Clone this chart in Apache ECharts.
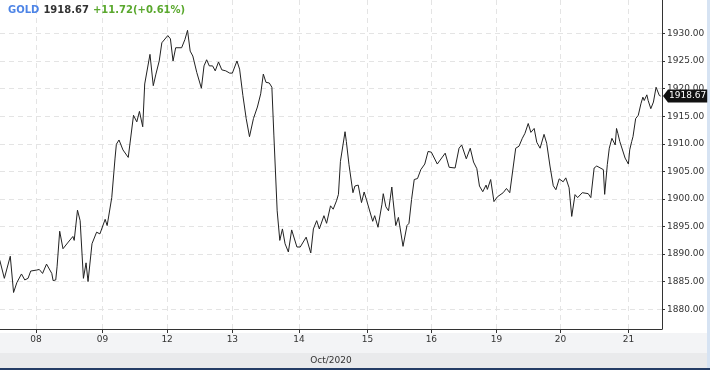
<!DOCTYPE html>
<html>
<head>
<meta charset="utf-8">
<script src="https://cdn.jsdelivr.net/npm/echarts@6/dist/echarts.min.js"></script>
<style>
html,body{margin:0;padding:0;background:#fff;}
#c{width:710px;height:370px;}
</style>
</head>
<body>
<div id="c"></div>
<script>
// trading-day position (0 = Oct 08 session mark) and price
var times = [-0.55,-0.48,-0.39,-0.34,-0.29,-0.22,-0.17,-0.12,-0.08,0.01,0.05,0.10,0.16,0.24,0.26,0.30,0.32,0.36,0.41,0.49,0.56,0.58,0.63,0.67,0.72,0.76,0.79,0.85,0.92,0.97,
1.05,1.08,1.15,1.20,1.22,1.26,1.32,1.40,1.48,1.53,1.57,1.62,1.65,1.73,1.78,1.82,1.87,1.91,2.00,2.04,2.08,2.12,2.21,2.26,2.30,2.34,2.38,2.44,2.51,2.55,2.59,2.63,2.68,2.72,2.77,2.82,2.88,2.94,2.98,
3.05,3.09,3.14,3.19,3.24,3.30,3.36,3.41,3.45,3.49,3.54,3.58,3.61,3.66,3.70,3.74,3.78,3.83,3.88,3.96,
4.01,4.10,4.17,4.21,4.26,4.30,4.37,4.41,4.47,4.51,4.56,4.59,4.62,4.69,4.71,4.75,4.81,4.84,4.89,4.94,4.98,
5.02,5.11,5.14,5.19,5.25,5.27,5.31,5.35,5.40,5.42,5.46,5.50,5.53,5.57,5.63,5.66,5.70,5.74,5.79,5.84,5.90,5.95,
6.00,6.09,6.21,6.27,6.36,6.42,6.46,6.53,6.59,6.64,6.69,6.73,6.78,6.83,6.85,6.90,6.95,
7.00,7.09,7.14,7.19,7.24,7.28,7.33,7.38,7.42,7.47,7.51,7.56,7.60,7.65,7.71,7.75,7.80,7.85,7.89,7.94,
8.00,8.04,8.09,8.13,8.18,8.22,8.29,8.38,8.42,8.47,8.51,8.61,8.63,8.67,8.70,8.74,8.76,8.79,8.81,8.83,8.86,8.94,8.99,
9.01,9.04,9.06,9.10,9.14,9.18,9.21,9.23,9.27,9.29,9.33,9.37,9.41,9.43,9.46,9.48];
var prices = [1888.90,1885.61,1889.62,1883.04,1884.84,1886.40,1885.32,1885.61,1886.93,1887.11,1887.22,1886.50,1888.19,1886.50,1885.19,1885.32,1887.70,1894.15,1890.98,1892.18,1893.20,1892.49,1897.97,1896.07,1885.61,1888.42,1885.02,1891.88,1893.98,1893.67,
1896.31,1895.18,1900.25,1907.42,1909.93,1910.70,1908.90,1907.54,1915.18,1913.99,1915.89,1913.10,1920.86,1926.23,1920.55,1922.65,1925.03,1928.33,1929.64,1929.05,1925.03,1927.43,1927.43,1928.92,1930.59,1926.82,1925.93,1922.95,1920.09,1924.14,1925.25,1924.14,1924.14,1923.24,1924.85,1923.42,1923.24,1922.83,1922.83,
1925.03,1923.55,1918.76,1914.58,1911.30,1914.58,1916.68,1919.07,1922.65,1921.16,1921.04,1920.27,1911.59,1897.86,1892.49,1894.57,1891.88,1890.39,1894.39,1891.29,
1891.29,1893.08,1890.21,1894.57,1896.07,1894.57,1896.97,1895.59,1898.76,1898.15,1899.66,1900.84,1906.82,1912.20,1910.41,1906.22,1901.14,1902.35,1902.52,1899.35,1901.27,
1899.66,1895.95,1896.97,1894.87,1899.05,1900.96,1898.58,1897.86,1902.17,1899.66,1895.18,1896.66,1896.54,1891.41,1895.18,1895.59,1899.94,1903.53,1903.71,1905.32,1906.34,1908.62,
1908.49,1906.34,1908.31,1905.75,1905.62,1909.21,1909.80,1907.29,1909.21,1906.70,1905.50,1902.35,1901.32,1902.52,1901.74,1903.53,1899.53,
1900.37,1901.14,1901.91,1901.14,1905.62,1909.21,1909.57,1911.00,1911.90,1913.69,1912.08,1912.79,1910.28,1909.21,1911.72,1910.11,1905.98,1902.40,1901.68,1903.65,
1903.12,1903.83,1902.04,1896.84,1900.79,1900.25,1901.14,1900.97,1900.25,1905.62,1905.98,1905.32,1900.84,1906.22,1909.21,1911.00,1910.70,1909.80,1912.79,1911.90,1910.41,1907.42,1906.34,
1908.90,1910.41,1911.31,1914.58,1915.18,1917.27,1918.47,1917.86,1918.89,1917.86,1916.38,1917.58,1920.27,1919.96,1918.76,1918.67];
var tickPos = [0, 1.01, 1.99, 2.98, 3.99, 5.03, 6.00, 6.99, 7.96, 8.99];
var tickLabels = ['08','09','12','13','14','15','16','19','20','21'];
var yTicks = [1880,1885,1890,1895,1900,1905,1910,1915,1920,1925,1930];
var symbolName = 'GOLD';
var lastPrice = 1918.67;
var change = '+11.72';
var changePct = '(+0.61%)';
var monthLabel = 'Oct/2020';

var data = times.map(function(t,i){return [t, prices[i]];});
var FONT = 'DejaVu Sans';
var chart = echarts.init(document.getElementById('c'), null, {renderer:'canvas'});
chart.setOption({
  animation:false,
  backgroundColor:'#ffffff',
  textStyle:{fontFamily:FONT},
  graphic:[
    {type:'rect', z:-10, shape:{x:0,y:333,width:710,height:20}, style:{fill:'#f3f4f6'}, silent:true},
    {type:'rect', z:-10, shape:{x:0,y:353,width:710,height:15}, style:{fill:'#e9eaec'}, silent:true},
    {type:'rect', z:-10, shape:{x:0,y:368,width:710,height:2}, style:{fill:'#243d66'}, silent:true},
    {type:'rect', z:-10, shape:{x:707,y:0,width:3,height:368}, style:{fill:'#d6e3f3'}, silent:true}
  ],
  title:{
    left:8, top:5, padding:0,
    text:'{a|'+symbolName+'}{b|'+lastPrice.toFixed(2)+'}{c|'+change+changePct+'}',
    textStyle:{
      rich:{
        a:{fontFamily:FONT,fontSize:10,fontWeight:'bold',color:'#4d84e6'},
        b:{fontFamily:FONT,fontSize:10,fontWeight:'bold',color:'#333333',padding:[0,0,0,4]},
        c:{fontFamily:FONT,fontSize:10,fontWeight:'bold',color:'#5aa82e',padding:[0,0,0,4]}
      }
    }
  },
  grid:{left:0,right:48,top:0,bottom:37,containLabel:false},
  xAxis:{
    type:'value', min:-0.546, max:9.5,
    name: monthLabel, nameLocation:'middle', nameGap:27,
    nameTextStyle:{fontFamily:FONT,fontSize:9,color:'#333'},
    axisLine:{show:true,onZero:false,lineStyle:{color:'#333',width:1}},
    axisTick:{show:true,length:4,customValues:tickPos,lineStyle:{color:'#333'}},
    axisLabel:{customValues:tickPos,fontFamily:FONT,fontSize:9,color:'#333',margin:6,
      formatter:function(v){var i=tickPos.indexOf(v);return i>=0?tickLabels[i]:'';}},
    splitLine:{show:true,lineStyle:{color:'#e4e4e4',type:[5,4],width:1}}
  },
  yAxis:{
    type:'value', position:'right', min:1876.42, max:1936.09,
    axisLine:{show:true,onZero:false,lineStyle:{color:'#333',width:1}},
    axisTick:{show:true,length:3,customValues:yTicks,lineStyle:{color:'#333'}},
    axisLabel:{customValues:yTicks,fontFamily:FONT,fontSize:9,color:'#333',margin:5,
      formatter:function(v){return v.toFixed(2);}},
    splitLine:{show:true,lineStyle:{color:'#e4e4e4',type:[5,4],width:1}}
  },
  series:[{
    type:'line', data:data, showSymbol:false, symbol:'none',
    lineStyle:{color:'#222222',width:1},
    markLine:{
      silent:true, symbol:'none',
      lineStyle:{color:'rgba(0,0,0,0)',width:0},
      label:{show:true,position:'end',distance:6,formatter:function(){return lastPrice.toFixed(2);},
        backgroundColor:'#111',color:'#fff',fontFamily:FONT,fontSize:9,padding:[2,1,2,1]},
      data:[{yAxis:lastPrice}]
    },
    markPoint:{
      silent:true,
      symbol:'path://M0,6 L5,0 L5,12 Z', symbolSize:[5,13], symbolOffset:[3.5,0],
      itemStyle:{color:'#111'}, label:{show:false},
      data:[{coord:[9.5,lastPrice]}]
    }
  }]
});
</script>
</body>
</html>
